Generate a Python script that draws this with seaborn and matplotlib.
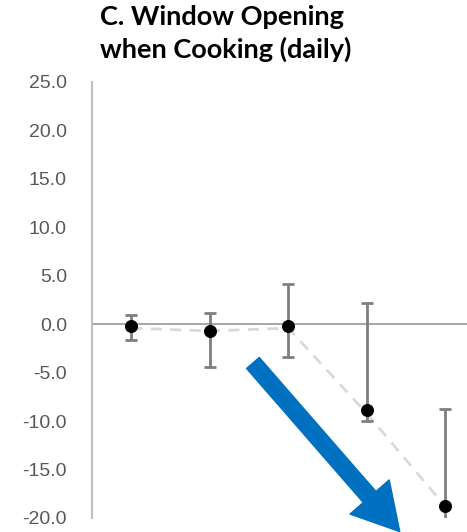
import pandas as pd
import seaborn as sns
import matplotlib.pyplot as plt

# values
groups = [1, 2, 3, 4, 5]
means = [-0.2, -0.75, -0.15, -8.9, -18.8]
upper = [1.0, 1.2, 4.2, 2.2, -8.7]
lower = [-1.6, -4.4, -3.4, -10.0, -22.0]
trend = [-0.4, -0.7, -0.4, -9.2, -18.8]
yticks = [-20, -15, -10, -5, 0, 5, 10, 15, 20, 25]

df = pd.DataFrame({'group': groups, 'mean': means, 'upper': upper,
                   'lower': lower, 'trend': trend})
df['x'] = df['group'] - 0.5

sns.set_style('white')

fig = plt.figure(figsize=(4.67, 5.32), dpi=100)
ax = fig.add_axes([92 / 467, 1 - 518 / 532, 1 - 92 / 467, (518 - 82) / 532])

ax.axhline(0, color='#A6A6A6', lw=1.4, zorder=1)

sns.lineplot(data=df, x='x', y='trend', ax=ax, color='#D9D9D9', lw=2,
             dashes=False, zorder=2)
ax.lines[-1].set_linestyle((0, (4, 3)))

ax.errorbar(df['x'], df['mean'],
            yerr=[df['mean'] - df['lower'], df['upper'] - df['mean']],
            fmt='none', ecolor='#7F7F7F', elinewidth=2, capsize=4,
            capthick=2, zorder=3)

sns.scatterplot(data=df, x='x', y='mean', ax=ax, color='black', s=75,
                edgecolor='black', zorder=4)

ax.annotate('', xy=(3.92, -21.4), xytext=(2.05, -4.0),
            xycoords='data', annotation_clip=False,
            arrowprops=dict(arrowstyle='simple,head_width=1.7,head_length=1.5,tail_width=0.55',
                            fc='#0070C0', ec='#0070C0', mutation_scale=22,
                            shrinkA=0, shrinkB=0))

ax.set_xlim(0, (467 - 92) / 78.5)
ax.set_ylim(-20, 25)
ax.set_yticks(yticks)
ax.set_yticklabels([f'{v:.1f}' for v in yticks], fontsize=14,
                   color='#595959', family='Liberation Sans')
ax.set_xticks([])
ax.set_xlabel('')
ax.set_ylabel('')
ax.tick_params(axis='y', length=0, pad=18)

for s in ['top', 'right', 'bottom']:
    ax.spines[s].set_visible(False)
ax.spines['left'].set_color('#BFBFBF')
ax.spines['left'].set_linewidth(1.5)

fig.text(100 / 467, 1 - 5 / 532, 'C. Window Opening\nwhen Cooking (daily)',
         ha='left', va='top', fontsize=19.5, fontweight='bold',
         family='Lato', linespacing=1.36, color='black')

fig.savefig('out.png', dpi=100)
